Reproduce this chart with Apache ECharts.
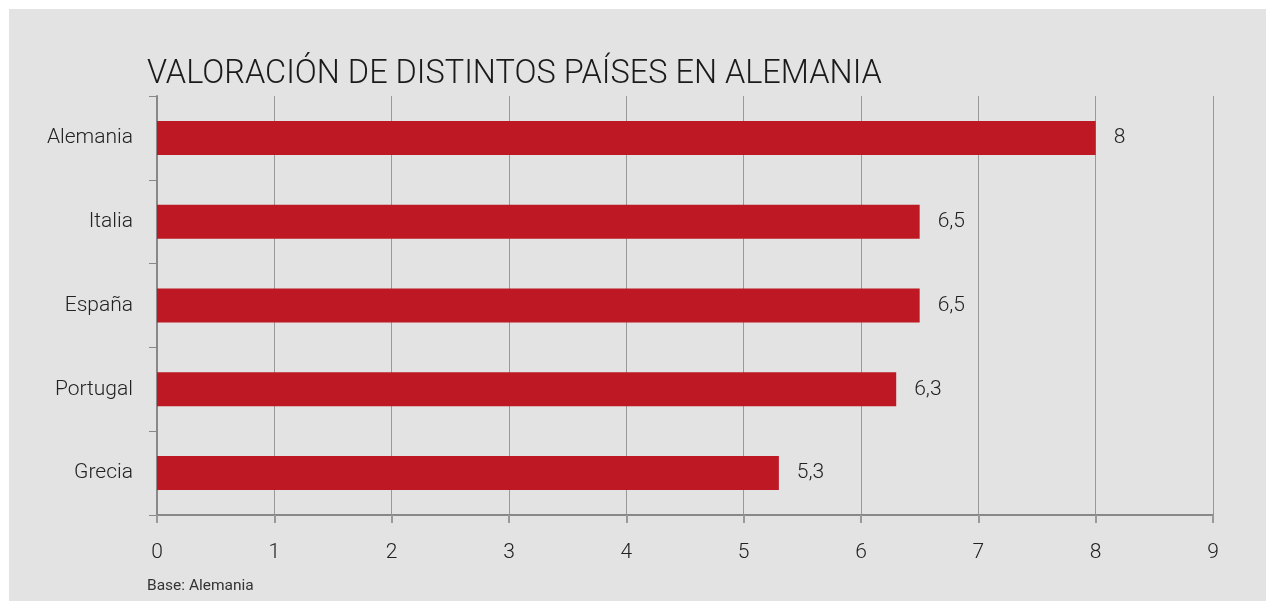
<!DOCTYPE html>
<html lang="es">
<head>
    <meta charset="UTF-8">
    <title>Valoración de distintos países en Alemania</title>
    <script src="https://cdn.jsdelivr.net/npm/echarts/dist/echarts.min.js"></script>
    <style>
        body {
            margin: 0;
            background: #ffffff;
        }
        #chart {
            position: absolute;
            left: 9px;
            top: 9px;
            width: 1257px;
            height: 592px;
        }
    </style>
</head>
<body>
    <div id="chart"></div>

    <script>
        // datos
        const paises = ['Alemania', 'Italia', 'España', 'Portugal', 'Grecia'];
        const valores = [8, 6.5, 6.5, 6.3, 5.3];
        const titulo = 'VALORACIÓN DE DISTINTOS PAÍSES EN ALEMANIA';
        const nota = 'Base: Alemania';

        const myChart = echarts.init(document.getElementById('chart'));

        const option = {
            backgroundColor: '#e3e3e3',
            animation: false,
            textStyle: { fontFamily: 'Roboto' },
            title: [{
                text: titulo,
                left: 138,
                top: 49,
                padding: 0,
                textStyle: { fontSize: 32.5, fontWeight: 300, color: '#1a1a1a' }
            }, {
                text: nota,
                left: 138,
                top: 569,
                padding: 0,
                textStyle: { fontSize: 15.5, fontWeight: 400, color: '#333' }
            }],
            grid: {
                left: 148,
                right: 53,
                top: 87,
                bottom: 86,
                containLabel: false
            },
            xAxis: {
                type: 'value',
                min: 0,
                max: 9,
                interval: 1,
                axisLine: { show: true, lineStyle: { color: '#888', width: 2 } },
                axisTick: { show: true, length: 8, lineStyle: { color: '#999', width: 2 } },
                axisLabel: { margin: 27, fontSize: 21, fontWeight: 300, color: '#222' },
                splitLine: { show: true, lineStyle: { color: '#999', width: 1 } }
            },
            yAxis: {
                type: 'category',
                data: paises,
                inverse: true,
                axisLine: { show: true, lineStyle: { color: '#888', width: 2 } },
                axisTick: { show: true, length: 8, lineStyle: { color: '#888', width: 1 } },
                axisLabel: { margin: 24, fontSize: 21, fontWeight: 300, color: '#222', padding: [6, 0, 0, 0] }
            },
            series: [{
                type: 'bar',
                data: valores,
                barWidth: 34,
                itemStyle: { color: '#bd1823' },
                label: {
                    show: true,
                    position: 'right',
                    distance: 18,
                    fontSize: 21,
                    fontWeight: 300,
                    color: '#222',
                    padding: [6, 0, 0, 0],
                    formatter: p => String(p.value).replace('.', ',')
                }
            }]
        };

        myChart.setOption(option);
    </script>
</body>
</html>
